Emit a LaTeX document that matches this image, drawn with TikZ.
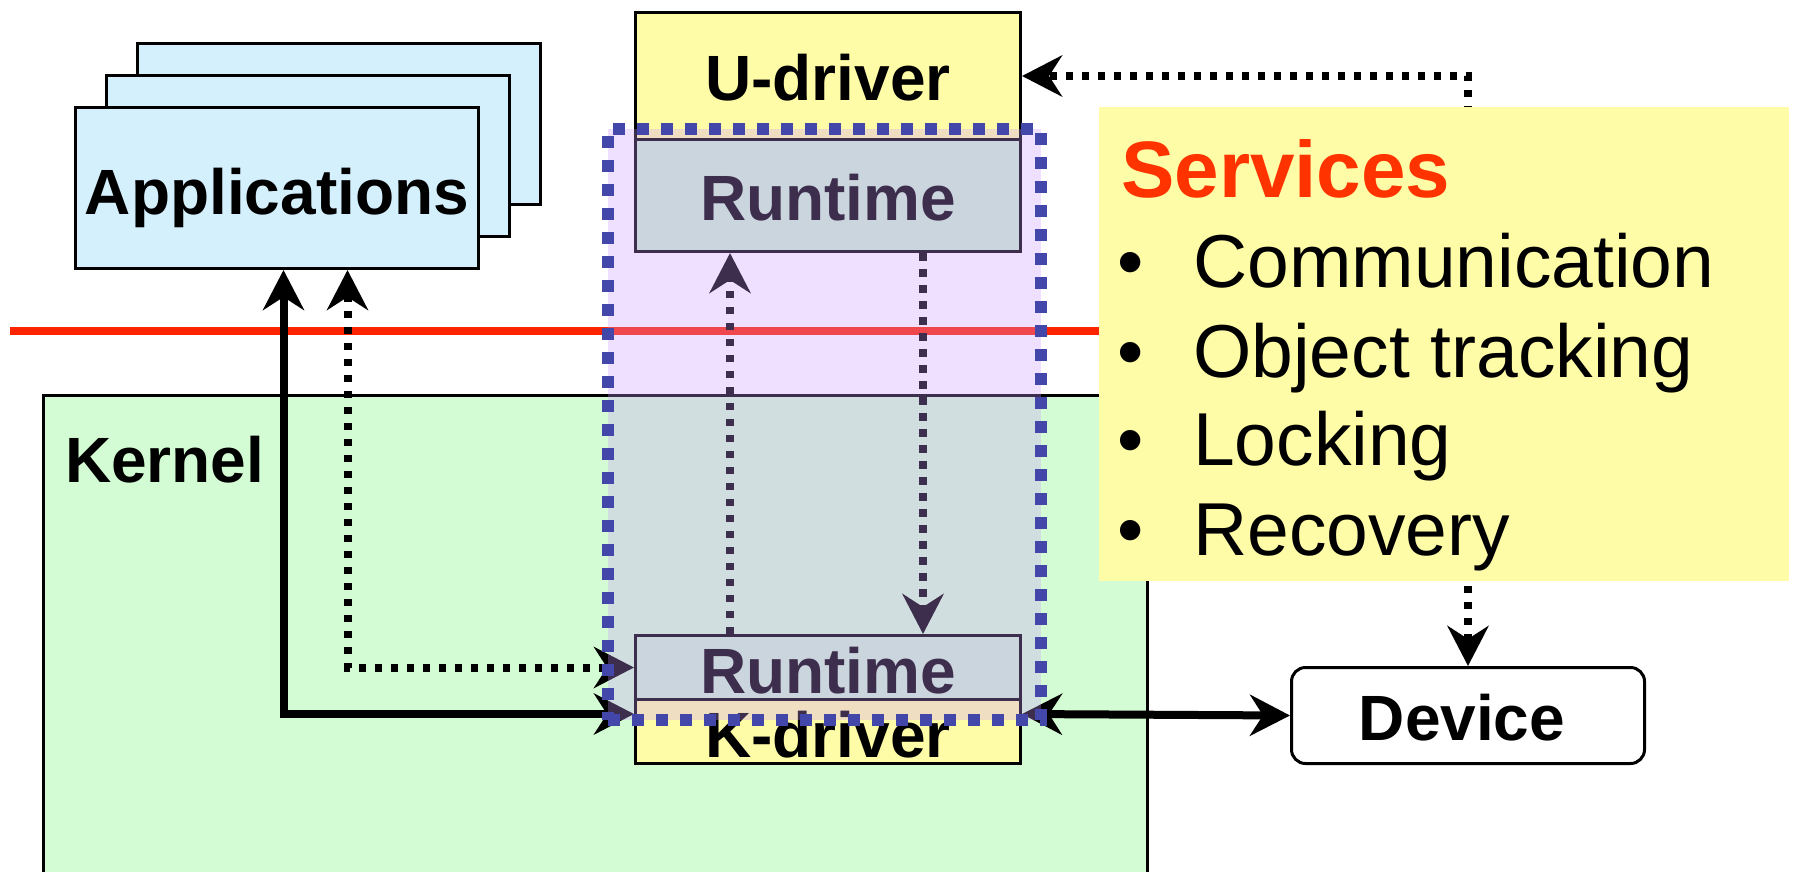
\documentclass[tikz,border=0pt]{standalone}
\usepackage{fontspec}
\setmainfont{Liberation Sans}
\usetikzlibrary{arrows.meta,calc}

\definecolor{appfill}{HTML}{D5F0FD}
\definecolor{kernfill}{HTML}{D4FCD4}
\definecolor{drvfill}{HTML}{FFFCA8}
\definecolor{rtfill}{HTML}{CBEFD1}
\definecolor{veil}{HTML}{CC99FF}
\definecolor{veilblue}{HTML}{4347AA}
\definecolor{divred}{HTML}{FF2400}
\definecolor{svcred}{HTML}{FF3300}

\tikzset{
  panel/.style={draw=black, line width=3pt, inner sep=0pt, anchor=north west},
  boldlbl/.style={inner sep=0pt, font=\bfseries\fontsize{64}{72}\selectfont},
  itemfont/.style={inner sep=0pt, font=\fontsize{75}{82}\selectfont},
  bigtip/.tip={Stealth[length=40pt,width=41pt,inset=13pt]},
  solidlink/.style={draw=black, line width=8pt, {bigtip}-{bigtip}},
  dotlink/.style={draw=black, line width=8pt, dash pattern=on 7.5pt off 8.5pt, {bigtip}-{bigtip}},
}

\begin{document}
\begin{tikzpicture}[x=1pt,y=-1pt]
\useasboundingbox (0,0) rectangle (1796,871);

% stack of application windows
\foreach \i/\x/\y in {3/136/42, 2/105/74, 1/74/106}
  \node[panel, fill=appfill, minimum width=403pt, minimum height=161pt] (app\i) at (\x,\y) {};
\node[boldlbl, anchor=base] (applbl) at ($(app1.center)+(0,26.5)$) {Applications};

% kernel area
\node[panel, fill=kernfill, minimum width=1104pt, minimum height=520pt] (kernel) at (42,394) {};
\node[inner sep=0pt, font=\bfseries\fontsize{64}{72}\selectfont, anchor=base west] (kernlbl) at (65,482) {Kernel};

% user/kernel boundary
\coordinate (divL) at (10,331);
\coordinate (divR) at (1120,331);
\draw[line width=8pt, divred] (divL) -- (divR);

% driver column
\node[panel, fill=drvfill, minimum width=385pt, minimum height=127pt] (udrv) at (634,11) {};
\node[panel, fill=rtfill, minimum width=385pt, minimum height=112pt] (rthi) at (634,138) {};
\node[panel, fill=rtfill, minimum width=385pt, minimum height=64pt] (rtlo) at (634,634) {};
\node[panel, fill=drvfill, minimum width=385pt, minimum height=64pt] (kdrv) at (634,698) {};
\node[boldlbl, anchor=base] (udlbl) at ($(udrv.north)+(0,89)$) {U-driver};
\node[boldlbl, anchor=base] (rthilbl) at ($(rthi.north)+(0,82)$) {Runtime};
\node[boldlbl, anchor=base] (rtlolbl) at ($(rtlo.north)+(0,59)$) {Runtime};
\node[boldlbl, anchor=base] (kdlbl) at ($(kdrv.north)+(0,59)$) {K-driver};

% device
\node[panel, rounded corners=14pt, fill=white, minimum width=353pt, minimum height=96pt] (dev) at (1290,666) {};
\node[boldlbl, anchor=base] (devlbl) at ($(dev.north)+(-6,74)$) {Device};

% connectors
\coordinate (kin) at ($(kdrv.north west)+(0,16)$);
\coordinate (kout) at ($(kdrv.north east)+(0,16)$);
\draw[solidlink] ($(app1.south)+(6.5,0)$) |- (kin);
\draw[solidlink] (kout) -- (dev.west);
\draw[dotlink] ($(app1.south)+(70.5,0)$) |- (rtlo.west);
\draw[dotlink, -{bigtip}] ($(rtlo.north west)+(96,0)$) -- ($(rthi.south west)+(96,0)$);
\draw[dotlink, -{bigtip}] ($(rthi.south west)+(289,0)$) -- ($(rtlo.north west)+(289,0)$);
\draw[dotlink] (dev.north) |- ($(udrv.north east)+(0,65)$);

% runtime zone spanning user and kernel space
\node[anchor=north west, inner sep=0pt, minimum width=433pt, minimum height=591pt,
      fill=veil, fill opacity=0.3, draw=veilblue, line width=12pt,
      dash pattern=on 12pt off 12pt] (rtzone) at (602,123) {};

% services panel
\node[anchor=north west, inner sep=0pt, fill=drvfill, minimum width=690pt, minimum height=474pt] (svc) at (1099,107) {};
\node[anchor=base west, inner sep=0pt, text=svcred, font=\bfseries\fontsize{80}{90}\selectfont] (svctitle) at (1121,197) {Services};
\foreach \t/\b [count=\k] in {Communication/287, Object tracking/377, Locking/465, Recovery/555} {
  \node[itemfont, anchor=base] (bul\k) at (1131,\b) {•};
  \node[itemfont, anchor=base west] (item\k) at (1193,\b) {\t};
}
\end{tikzpicture}
\end{document}
